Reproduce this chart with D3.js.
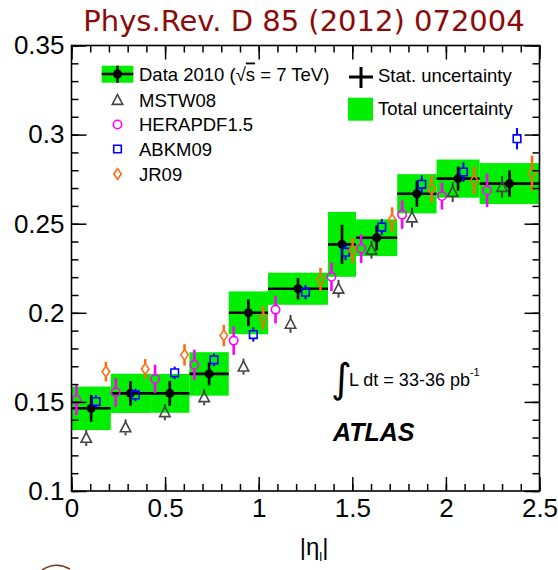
<!DOCTYPE html>
<html><head><meta charset="utf-8">
<script src="https://cdn.jsdelivr.net/npm/d3@7"></script>
<style>
html,body{margin:0;padding:0;background:#fff;}
svg{display:block;}
text{font-family:"Liberation Sans",Arial,Helvetica,sans-serif;}
</style></head>
<body>
<script>
// ---- data ----
const binEdges = [0, 0.21, 0.42, 0.63, 0.84, 1.05, 1.37, 1.52, 1.74, 1.95, 2.18, 2.5];
const dataValues = [0.1464, 0.1548, 0.1548, 0.1657, 0.2000, 0.2135, 0.2384, 0.2421, 0.2668, 0.2753, 0.2725];
const dataStat = [0.0075, 0.0069, 0.0070, 0.0064, 0.0075, 0.0060, 0.0110, 0.0070, 0.0073, 0.0068, 0.0074];
const dataTotal = [0.0122, 0.0110, 0.0109, 0.0122, 0.0120, 0.0090, 0.0182, 0.0103, 0.0110, 0.0107, 0.0115];

const heraValues = [0.1511, 0.1554, 0.1629, 0.1708, 0.1844, 0.2018, 0.2202, 0.2360, 0.2551, 0.2655, 0.2687];
const heraErr = [0.0085, 0.0080, 0.0080, 0.0085, 0.0080, 0.0078, 0.0080, 0.0080, 0.0080, 0.0075, 0.0094];
const mstwValues = [0.1298, 0.1357, 0.1442, 0.1526, 0.1698, 0.1938, 0.2135, 0.2354, 0.2535, 0.2678, 0.2706];
const mstwErr = [0.0045, 0.0045, 0.0045, 0.0045, 0.0045, 0.0050, 0.0050, 0.0050, 0.0055, 0.0056, 0.0060];
const abkmValues = [0.1502, 0.1539, 0.1663, 0.1736, 0.1878, 0.2116, 0.2340, 0.2481, 0.2721, 0.2790, 0.2977];
const abkmErr = [0.0035, 0.0035, 0.0035, 0.0035, 0.0040, 0.0040, 0.0045, 0.0045, 0.0050, 0.0055, 0.0060];
const jrValues = [0.1670, 0.1685, 0.1764, 0.1872, 0.1972, 0.2187, 0.2350, 0.2522, 0.2695, 0.2743, 0.2784];
const jrErr = [0.0055, 0.0055, 0.0060, 0.0060, 0.0065, 0.0065, 0.0070, 0.0070, 0.0075, 0.0077, 0.0098];

const xTickValues = [0, 0.5, 1, 1.5, 2, 2.5];
const xTickLabels = ["0", "0.5", "1", "1.5", "2", "2.5"];
const yTickValues = [0.1, 0.15, 0.2, 0.25, 0.3, 0.35];
const yTickLabels = ["0.1", "0.15", "0.2", "0.25", "0.3", "0.35"];
const legendLabels = ["MSTW08", "HERAPDF1.5", "ABKM09", "JR09"];

// ---- layout ----
const W = 558, H = 570;
const L = 71.5, R = 539.5, T = 45.5, B = 491;
const GREEN = "#00ee00";
const svg = d3.select("body").append("svg").attr("width", W).attr("height", H);

const x = d3.scaleLinear().domain([0, 2.5]).range([L, R]);
const y = d3.scaleLinear().domain([0.1, 0.35]).range([B, T]);

// title
svg.append("text").attr("x", 304).attr("y", 31).attr("text-anchor", "middle")
  .style("font-family", "'DejaVu Sans', Verdana, sans-serif").style("font-size", "29px")
  .attr("fill", "#8b0a0a").text("Phys.Rev. D 85 (2012) 072004");

// total uncertainty boxes
const bins = dataValues.map((v, i) => ({lo: binEdges[i], hi: binEdges[i + 1], v, s: dataStat[i], t: dataTotal[i]}));
svg.append("g").selectAll("rect").data(bins).join("rect")
  .attr("x", d => x(d.lo)).attr("width", d => x(d.hi) - x(d.lo))
  .attr("y", d => y(d.v + d.t)).attr("height", d => y(d.v - d.t) - y(d.v + d.t))
  .attr("fill", GREEN);

// data crosses
const gd = svg.append("g");
gd.selectAll("line.h").data(bins).join("line").attr("class", "h")
  .attr("x1", d => x(d.lo)).attr("x2", d => x(d.hi)).attr("y1", d => y(d.v)).attr("y2", d => y(d.v))
  .attr("stroke", "#000").attr("stroke-width", 2.6);
gd.selectAll("line.v").data(bins).join("line").attr("class", "v")
  .attr("x1", d => x((d.lo + d.hi) / 2)).attr("x2", d => x((d.lo + d.hi) / 2))
  .attr("y1", d => y(d.v + d.s)).attr("y2", d => y(d.v - d.s))
  .attr("stroke", "#000").attr("stroke-width", 2.6);
gd.selectAll("circle").data(bins).join("circle")
  .attr("cx", d => x((d.lo + d.hi) / 2)).attr("cy", d => y(d.v)).attr("r", 4.5).attr("fill", "#000");

// theory predictions
function markerPath(type, r) {
  if (type === "tri") return `M0,${-r}L${r*0.95},${r*0.8}L${-r*0.95},${r*0.8}Z`;
  if (type === "sq") return `M${-r},${-r}H${r}V${r}H${-r}Z`;
  if (type === "dia") return `M0,${-r*1.4}L${r},0L0,${r*1.4}L${-r},0Z`;
  return d3.arc()({innerRadius: 0, outerRadius: r, startAngle: 0, endAngle: 2 * Math.PI});
}
const theories = [
  {vals: heraValues, errs: heraErr, color: "#ff00ff", type: "circ", r: 4.2, half: 4.2, pos: 0, w: 2.6},
  {vals: mstwValues, errs: mstwErr, color: "#444444", type: "tri", r: 5.5, half: 5, pos: 1, w: 2},
  {vals: abkmValues, errs: abkmErr, color: "#0000ff", type: "sq", r: 3.8, half: 3.8, pos: 2, w: 2},
  {vals: jrValues, errs: jrErr, color: "#ff6a10", type: "dia", r: 3.8, half: 5.3, pos: 3, w: 2.6}
];
theories.forEach(th => {
  const pts = th.vals.map((v, i) => ({
    cx: x(binEdges[i] + (th.pos + 0.5) / 4 * (binEdges[i + 1] - binEdges[i])),
    cy: y(v), top: y(v + th.errs[i]), bot: y(v - th.errs[i])
  }));
  const g = svg.append("g");
  g.selectAll("line.u").data(pts).join("line").attr("class", "u")
    .attr("x1", d => d.cx).attr("x2", d => d.cx).attr("y1", d => d.top).attr("y2", d => d.cy - th.half)
    .attr("stroke", th.color).attr("stroke-width", th.w);
  g.selectAll("line.d").data(pts).join("line").attr("class", "d")
    .attr("x1", d => d.cx).attr("x2", d => d.cx).attr("y1", d => d.cy + th.half).attr("y2", d => d.bot)
    .attr("stroke", th.color).attr("stroke-width", th.w);
  g.selectAll("path").data(pts).join("path")
    .attr("transform", d => `translate(${d.cx},${d.cy})`)
    .attr("d", markerPath(th.type, th.r))
    .attr("fill", "none").attr("stroke", th.color).attr("stroke-width", 1.6);
});

// axes (ticks inward)
const fontAxis = "26px";
function styleAxis(g) {
  g.select(".domain").remove();
  g.selectAll(".tick line").attr("stroke", "#000").attr("stroke-width", 1.5);
  g.selectAll("text").style("font-size", fontAxis).attr("fill", "#000")
    .style("font-family", "'Liberation Sans', Arial, sans-serif");
}
const xMinor = d3.range(0, 2.5001, 0.1);
const yMinor = d3.range(0.1, 0.35001, 0.01);
// bottom
svg.append("g").attr("transform", `translate(0,${B})`)
  .call(d3.axisBottom(x).tickValues(xMinor).tickSize(-7).tickFormat("")).call(styleAxis);
svg.append("g").attr("transform", `translate(0,${B})`)
  .call(d3.axisBottom(x).tickValues(xTickValues).tickSize(-14).tickPadding(8)
    .tickFormat((d, i) => xTickLabels[i])).call(styleAxis);
// top
svg.append("g").attr("transform", `translate(0,${T})`)
  .call(d3.axisTop(x).tickValues(xMinor).tickSize(-7).tickFormat("")).call(styleAxis);
svg.append("g").attr("transform", `translate(0,${T})`)
  .call(d3.axisTop(x).tickValues(xTickValues).tickSize(-14).tickFormat("")).call(styleAxis);
// left
svg.append("g").attr("transform", `translate(${L},0)`)
  .call(d3.axisLeft(y).tickValues(yMinor).tickSize(-7).tickFormat("")).call(styleAxis);
svg.append("g").attr("transform", `translate(${L},0)`)
  .call(d3.axisLeft(y).tickValues(yTickValues).tickSize(-15).tickPadding(7)
    .tickFormat((d, i) => yTickLabels[i])).call(styleAxis);
// right
svg.append("g").attr("transform", `translate(${R},0)`)
  .call(d3.axisRight(y).tickValues(yMinor).tickSize(-7).tickFormat("")).call(styleAxis);
svg.append("g").attr("transform", `translate(${R},0)`)
  .call(d3.axisRight(y).tickValues(yTickValues).tickSize(-15).tickFormat("")).call(styleAxis);

// frame
svg.append("rect").attr("x", L).attr("y", T).attr("width", R - L).attr("height", B - T)
  .attr("fill", "none").attr("stroke", "#000").attr("stroke-width", 1.6);

// axis title |η_l|
const xt = svg.append("text").attr("x", 314).attr("y", 555).attr("text-anchor", "middle")
  .style("font-size", "24px").attr("fill", "#000");
xt.append("tspan").text("|η");
xt.append("tspan").attr("dy", 6).style("font-size", "13px").text("l");
xt.append("tspan").attr("dy", -6).text("|");

// legend
const lg = svg.append("g").style("font-size", "18.5px");
lg.append("rect").attr("x", 101.7).attr("y", 65.7).attr("width", 31.6).attr("height", 17).attr("fill", GREEN);
lg.append("line").attr("x1", 101.7).attr("x2", 133.3).attr("y1", 74).attr("y2", 74).attr("stroke", "#000").attr("stroke-width", 2.6);
lg.append("line").attr("x1", 117.5).attr("x2", 117.5).attr("y1", 65.7).attr("y2", 82.7).attr("stroke", "#000").attr("stroke-width", 2.6);
lg.append("circle").attr("cx", 117.5).attr("cy", 74).attr("r", 4.5).attr("fill", "#000");
const dt = lg.append("text").attr("x", 139).attr("y", 80.5).attr("fill", "#000");
dt.append("tspan").text("Data 2010 (√");
dt.append("tspan").style("text-decoration", "overline").text("s");
dt.append("tspan").text(" = 7 TeV)");

const legOrder = [1, 0, 2, 3]; // MSTW, HERA, ABKM, JR09
const legRows = [100, 124.5, 149, 174];
legOrder.forEach((ti, k) => {
  const th = theories[ti];
  lg.append("path").attr("transform", `translate(117.5,${legRows[k]})`)
    .attr("d", markerPath(th.type, th.r)).attr("fill", "none")
    .attr("stroke", th.color).attr("stroke-width", 1.6);
  lg.append("text").attr("x", 139).attr("y", legRows[k] + 6.5).attr("fill", "#000").text(legendLabels[k]);
});
// right legend
lg.append("line").attr("x1", 349).attr("x2", 373).attr("y1", 77).attr("y2", 77).attr("stroke", "#000").attr("stroke-width", 3);
lg.append("line").attr("x1", 361).attr("x2", 361).attr("y1", 67).attr("y2", 88).attr("stroke", "#000").attr("stroke-width", 3);
lg.append("text").attr("x", 378).attr("y", 82).attr("fill", "#000").text("Stat. uncertainty");
lg.append("rect").attr("x", 348).attr("y", 97.7).attr("width", 25).attr("height", 23).attr("fill", GREEN);
lg.append("text").attr("x", 378).attr("y", 114.5).attr("fill", "#000").text("Total uncertainty");

// luminosity
svg.append("text").attr("x", 331).attr("y", 392).style("font-size", "40px")
  .style("font-family", "'DejaVu Sans', sans-serif").attr("fill", "#000").text("∫");
const lum = svg.append("text").attr("x", 349).attr("y", 386).style("font-size", "18px").attr("fill", "#000");
lum.append("tspan").text("L dt = 33-36 pb");
lum.append("tspan").attr("dy", -10).style("font-size", "11px").text("-1");

// ATLAS
svg.append("text").attr("x", 333).attr("y", 441).style("font-size", "25px")
  .style("font-weight", "bold").style("font-style", "italic").attr("fill", "#000").text("ATLAS");

// small decorative arc at bottom-left
svg.append("path").attr("d", "M42,570 Q56,561 70,569").attr("fill", "none")
  .attr("stroke", "#7a3b1a").attr("stroke-width", 1.5);
</script>
</body></html>
